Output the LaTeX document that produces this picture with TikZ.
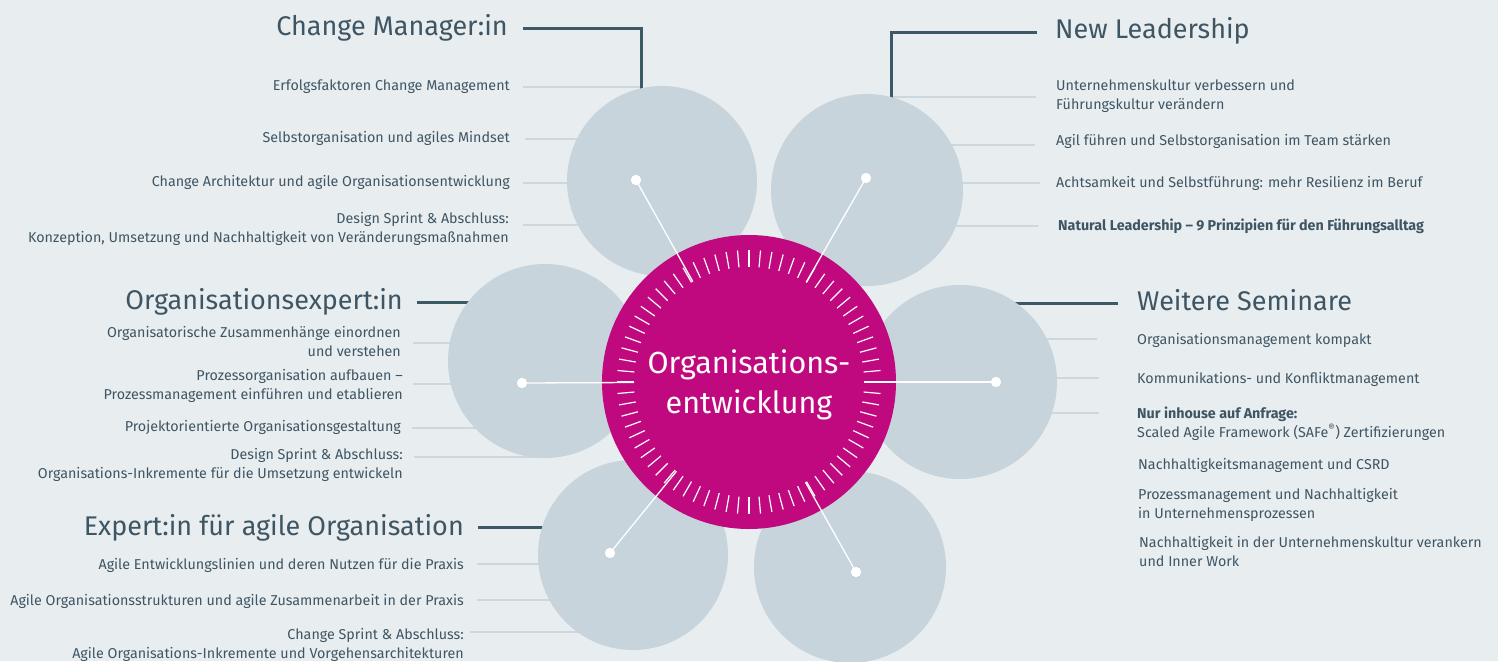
\documentclass[tikz,border=0pt]{standalone}
\usepackage{fontspec}
\setmainfont{Fira Sans}
\usetikzlibrary{calc}
\definecolor{bg}{HTML}{E8EDF0}
\definecolor{petal}{HTML}{C7D4DC}
\definecolor{hubmag}{HTML}{C0097E}
\definecolor{ink}{HTML}{3E5563}
\definecolor{rulec}{HTML}{3D5866}
\definecolor{thinc}{HTML}{CDD7DE}
\begin{document}
\begin{tikzpicture}[x=1pt,y=-1pt,
  item/.style={font=\fontsize{14.3}{18.5}\selectfont, text=ink, inner sep=0pt},
  itemL/.style={item, anchor=base east, align=right},
  itemR/.style={item, anchor=base west, align=left},
  head/.style={font=\fontsize{27}{30}\selectfont, text=ink, inner sep=0pt},
  bracket/.style={draw=rulec, line width=3pt},
  guide/.style={draw=thinc, line width=1.2pt},
  petalc/.style={circle, fill=petal, inner sep=0pt, minimum size=#1},
  dotc/.style={circle, fill=white, inner sep=0pt, minimum size=10pt},
  spoke/.style={draw=white, line width=1.3pt},
  tickc/.style={draw=white, line width=1.2pt},
]
\useasboundingbox (0,0) rectangle (1498,661);
\fill[bg] (0,0) rectangle (1498,661);

% named points
\coordinate (hub) at (749,382);
\coordinate (p1) at (662,181);
\coordinate (p2) at (867,190);
\coordinate (p3) at (545,361);
\coordinate (p4) at (960,382);
\coordinate (p5) at (633,555);
\coordinate (p6) at (850,567);

% ---------- guide lines ----------
\coordinate (g1a) at (523,87);  \coordinate (g1b) at (641,87);
\coordinate (g2a) at (525,139); \coordinate (g2b) at (662,139);
\coordinate (g3a) at (523,183); \coordinate (g3b) at (662,183);
\coordinate (g4a) at (523,225); \coordinate (g4b) at (662,225);
\draw[guide] (g1a) -- (g1b);
\draw[guide] (g2a) -- (g2b);
\draw[guide] (g3a) -- (g3b);
\draw[guide] (g4a) -- (g4b);

\coordinate (n1a) at (891,97);  \coordinate (n1b) at (1036,97);
\coordinate (n2a) at (867,145); \coordinate (n2b) at (1035,145);
\coordinate (n3a) at (867,183); \coordinate (n3b) at (1040,183);
\coordinate (n4a) at (867,226); \coordinate (n4b) at (1038,226);
\draw[guide] (n1a) -- (n1b);
\draw[guide] (n2a) -- (n2b);
\draw[guide] (n3a) -- (n3b);
\draw[guide] (n4a) -- (n4b);

\coordinate (o1a) at (413,343); \coordinate (o1b) at (545,343);
\coordinate (o2a) at (413,384); \coordinate (o2b) at (545,384);
\coordinate (o3a) at (412,428); \coordinate (o3b) at (545,428);
\coordinate (o4a) at (414,457); \coordinate (o4b) at (545,457);
\draw[guide] (o1a) -- (o1b);
\draw[guide] (o2a) -- (o2b);
\draw[guide] (o3a) -- (o3b);
\draw[guide] (o4a) -- (o4b);

\coordinate (w1a) at (960,339); \coordinate (w1b) at (1097,339);
\coordinate (w2a) at (960,378); \coordinate (w2b) at (1099,378);
\coordinate (w3a) at (960,413); \coordinate (w3b) at (1099,413);
\draw[guide] (w1a) -- (w1b);
\draw[guide] (w2a) -- (w2b);
\draw[guide] (w3a) -- (w3b);

\coordinate (e1a) at (477,564); \coordinate (e1b) at (633,564);
\coordinate (e2a) at (477,600); \coordinate (e2b) at (633,600);
\coordinate (e3a) at (470,632); \coordinate (e3b) at (633,632);
\draw[guide] (e1a) -- (e1b);
\draw[guide] (e2a) -- (e2b);
\draw[guide] (e3a) -- (e3b);

% ---------- heading brackets ----------
\coordinate (b1a) at (523,29); \coordinate (b1k) at (641,29); \coordinate (b1b) at (641,181);
\draw[bracket] (b1a) -- (b1k) -- (b1b);
\coordinate (b2a) at (1037,33); \coordinate (b2k) at (891,33); \coordinate (b2b) at (891,190);
\draw[bracket] (b2a) -- (b2k) -- (b2b);
\coordinate (b3a) at (417,302); \coordinate (b3b) at (545,302);
\draw[bracket] (b3a) -- (b3b);
\coordinate (b4a) at (1118,303); \coordinate (b4b) at (960,303);
\draw[bracket] (b4a) -- (b4b);
\coordinate (b5a) at (478,527); \coordinate (b5b) at (633,527);
\draw[bracket] (b5a) -- (b5b);

% ---------- petals ----------
\node[petalc=190pt] (c1) at (p1) {};
\node[petalc=192pt] (c2) at (p2) {};
\node[petalc=194pt] (c3) at (p3) {};
\node[petalc=194pt] (c4) at (p4) {};
\node[petalc=190pt] (c5) at (p5) {};
\node[petalc=192pt] (c6) at (p6) {};

% ---------- hub ----------
\node[circle, fill=hubmag, inner sep=0pt, minimum size=294pt] (hubc) at (hub) {};
\foreach \a in {0,5,...,355}
  \draw[tickc] ($(hub)+(\a:115)$) -- ($(hub)+(\a:132)$);

% ---------- spokes and dots ----------
\node[dotc] (d1) at (636,180) {};
\node[dotc] (d2) at (866,178) {};
\node[dotc] (d3) at (522,383) {};
\node[dotc] (d4) at (996,382) {};
\node[dotc] (d5) at (610,553) {};
\node[dotc] (d6) at (856,572) {};
\foreach \d in {d1,d2,d3,d4,d5,d6}
  \draw[spoke] (\d.center) -- ($(hub)!115pt!(\d.center)$);
\foreach \d in {d1,d2,d3,d4,d5,d6}
  \fill[white] (\d) circle (5pt);

\node[font=\fontsize{30.5}{40}\selectfont, text=white, align=center, inner sep=0pt] (title) at (749,385)
  {Organisations-\\entwicklung};

% ---------- headings ----------
\node[head, anchor=base east] (h1) at (508,36) {Change Manager:in};
\node[head, anchor=base west] (h2) at (1055,39) {New Leadership};
\node[head, anchor=base east] (h3) at (403,309) {Organisationsexpert:in};
\node[head, anchor=base west] (h4) at (1137,310) {Weitere Seminare};
\node[head, anchor=base east] (h5) at (464,535) {Expert:in für agile Organisation};

% ---------- Change Manager items ----------
\node[itemL] (t11) at (510,90) {Erfolgsfaktoren Change Management};
\node[itemL] (t12) at (510,142) {Selbstorganisation und agiles Mindset};
\node[itemL] (t13) at (510,186) {Change Architektur und agile Organisationsentwicklung};
\node[itemL] (t14) at (509,242) {Design Sprint \& Abschluss:\\Konzeption, Umsetzung und Nachhaltigkeit von Veränderungsmaßnahmen};

% ---------- New Leadership items ----------
\node[itemR] (t21) at (1056,109) {Unternehmenskultur verbessern und\\Führungskultur verändern};
\node[itemR] (t22) at (1056,145) {Agil führen und Selbstorganisation im Team stärken};
\node[itemR] (t23) at (1056,187) {Achtsamkeit und Selbstführung: mehr Resilienz im Beruf};
\node[itemR, font=\fontsize{14.3}{18.5}\selectfont\bfseries] (t24) at (1058,230) {Natural Leadership – 9 Prinzipien für den Führungsalltag};

% ---------- Organisationsexpert items ----------
\node[itemL] (t31) at (401,356) {Organisatorische Zusammenhänge einordnen\\und verstehen};
\node[itemL] (t32) at (403,399) {Prozessorganisation aufbauen –\\Prozessmanagement einführen und etablieren};
\node[itemL] (t33) at (401,431) {Projektorientierte Organisationsgestaltung};
\node[itemL] (t34) at (403,478) {Design Sprint \& Abschluss:\\Organisations-Inkremente für die Umsetzung entwickeln};

% ---------- Weitere Seminare items ----------
\node[itemR] (t41) at (1137,344) {Organisationsmanagement kompakt};
\node[itemR] (t42) at (1137,383) {Kommunikations- und Konfliktmanagement};
\node[itemR] (t43) at (1137,437) {\textbf{Nur inhouse auf Anfrage:}\\Scaled Agile Framework (SAFe\textsuperscript{®}) Zertifizierungen};
\node[itemR] (t44) at (1138,469) {Nachhaltigkeitsmanagement und CSRD};
\node[itemR] (t45) at (1138,518) {Prozessmanagement und Nachhaltigkeit\\in Unternehmensprozessen};
\node[itemR] (t46) at (1139,566) {Nachhaltigkeit in der Unternehmenskultur verankern\\und Inner Work};

% ---------- Expert agile items ----------
\node[itemL] (t51) at (464,569) {Agile Entwicklungslinien und deren Nutzen für die Praxis};
\node[itemL] (t52) at (464,605) {Agile Organisationsstrukturen und agile Zusammenarbeit in der Praxis};
\node[itemL] (t53) at (464,658) {Change Sprint \& Abschluss:\\Agile Organisations-Inkremente und Vorgehensarchitekturen};
\end{tikzpicture}
\end{document}
